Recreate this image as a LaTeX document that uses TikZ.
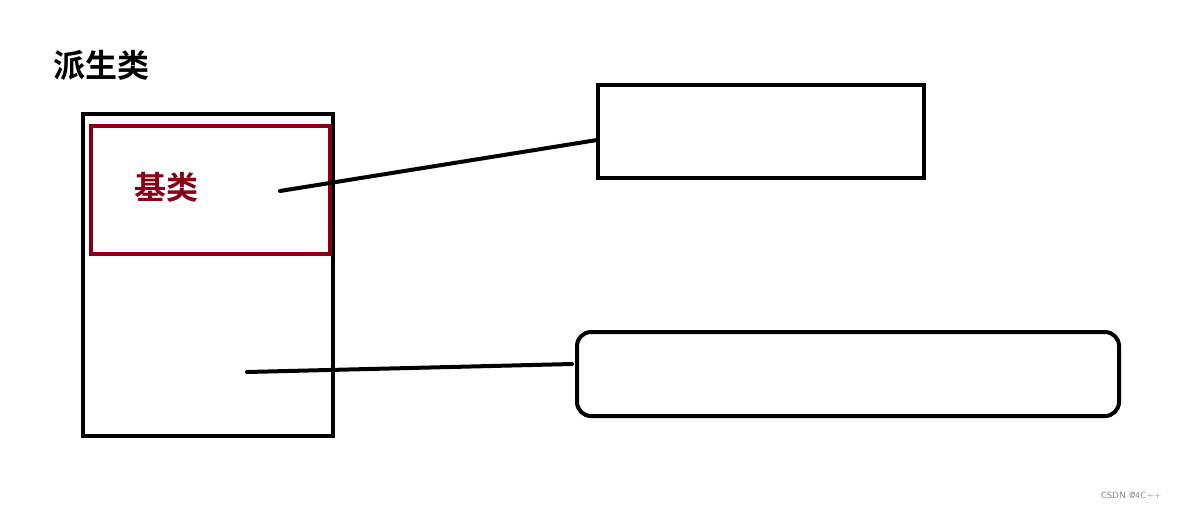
\documentclass[tikz,border=0pt]{standalone}
\usepackage{fontspec}
\newfontfamily\cjk{Noto Sans CJK SC}[BoldFont={Noto Sans CJK SC Bold}]
\definecolor{basered}{RGB}{136,0,22}
\tikzset{
  box/.style={draw,line width=2pt,inner sep=0pt},
  link/.style={line width=2pt,line cap=round}
}
\begin{document}
\begin{tikzpicture}[x=0.5pt,y=-0.5pt]
\useasboundingbox (0,0) rectangle (1177,510);
\node[font=\cjk\bfseries\fontsize{16pt}{18pt}\selectfont] (title) at (101,65) {派生类};
\node[box,minimum width=125pt,minimum height=161pt] (derived) at (208,275) {};
\node[box,draw=basered,minimum width=119.5pt,minimum height=64pt] (base) at (210.5,190) {};
\node[basered,font=\cjk\bfseries\fontsize{16pt}{18pt}\selectfont] (baselabel) at (166,187) {基类};
\node[box,minimum width=163pt,minimum height=46.5pt] (topbox) at (761,131.5) {};
\node[box,rounded corners=7pt,minimum width=271pt,minimum height=42pt] (lowbox) at (848,374) {};
\coordinate (basept) at (280,191);
\coordinate (derivedpt) at (247,372);
\coordinate (topend) at (597,140);
\coordinate (lowend) at (572,364);
\draw[link] (basept) -- (topend);
\draw[link] (derivedpt) -- (lowend);
\node[gray,font=\sffamily\fontsize{4.5pt}{5pt}\selectfont] (mark) at (1131,496) {CSDN @4C++};
\end{tikzpicture}
\end{document}
